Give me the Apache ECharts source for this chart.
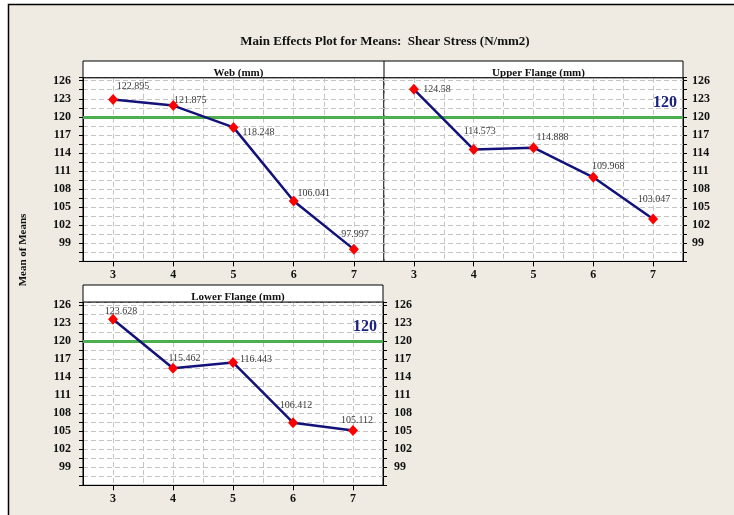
<!DOCTYPE html>
<html>
<head>
<meta charset="utf-8">
<script src="https://cdn.jsdelivr.net/npm/echarts@6/dist/echarts.min.js"></script>
<style>
html,body{margin:0;padding:0;background:#fff;}
#chart{width:734px;height:515px;}
</style>
</head>
<body>
<div id="chart"></div>
<script>
// ---- data ----
const levels = ['3', '4', '5', '6', '7'];
const xCats = ['2.5', '3', '3.5', '4', '4.5', '5', '5.5', '6', '6.5', '7', '7.5'];
const webMeans = [122.895, 121.875, 118.248, 106.041, 97.997];
const upperMeans = [124.58, 114.573, 114.888, 109.968, 103.047];
const lowerMeans = [123.628, 115.462, 116.443, 106.412, 105.112];
const yTickLabels = [99, 102, 105, 108, 111, 114, 117, 120, 123, 126];
const targetValue = 120;
const panelTitles = ['Web (mm)', 'Upper Flange (mm)', 'Lower Flange (mm)'];
const mainTitle = 'Main Effects Plot for Means:  Shear Stress (N/mm2)';
const yAxisName = 'Mean of Means';

// ---- label placement (style) ----
const labelOffsets = [
  [[20, -13], [17, -5.5], [25, 5], [20, -7.5], [1, -15]],
  [[23, 0], [6, -18.5], [19, -10], [15, -10.5], [1, -19.5]],
  [[8, -8], [11.5, -10], [23, -3.5], [3, -17.5], [4, -10.5]]
];

const SERIF = '"Liberation Serif", "DejaVu Serif", serif';
const grids = [
  {left: 83, top: 77.7, width: 301, height: 183.7},
  {left: 384, top: 77.7, width: 299, height: 183.7},
  {left: 83, top: 302, width: 300, height: 183.3}
];

function xAx(gi) {
  return {
    type: 'category', gridIndex: gi, data: xCats, boundaryGap: false,
    axisLine: {show: true, lineStyle: {color: '#000', width: 1}},
    axisTick: {show: true, length: 5, interval: (i) => i % 2 === 1, lineStyle: {color: '#000'}},
    axisLabel: {show: true, interval: (i) => i % 2 === 1, margin: 8,
      fontFamily: SERIF, fontWeight: 'bold', fontSize: 12, color: '#111'},
    splitLine: {show: true, interval: 0, lineStyle: {color: '#c4c4c4', type: [5, 3], width: 1}}
  };
}
function yAx(gi, pos, showLabels, showSplit, margin) {
  return {
    type: 'value', gridIndex: gi, position: pos, min: 96, max: 126.5, interval: 1.5,
    axisLine: {show: true, lineStyle: {color: '#000', width: 1}},
    axisTick: {show: true, length: 4, lineStyle: {color: '#000'}},
    axisLabel: {show: showLabels, margin: margin, fontFamily: SERIF, fontWeight: 'bold', fontSize: 12, color: '#111',
      formatter: (v) => yTickLabels.indexOf(v) >= 0 ? String(v) : ''},
    splitLine: {show: showSplit, lineStyle: {color: '#c4c4c4', type: [5, 3], width: 1}}
  };
}
function series(gi, yi, vals, offs, showTarget) {
  return {
    type: 'line', xAxisIndex: gi, yAxisIndex: yi,
    data: levels.map((l, i) => ({value: [l, vals[i]], label: {offset: offs[i]}})),
    symbol: 'diamond', symbolSize: [10, 11],
    itemStyle: {color: '#ff0000'},
    lineStyle: {color: '#12127a', width: 2.5},
    z: 5,
    label: {show: true, position: 'inside', formatter: (p) => String(p.value[1]),
      fontFamily: SERIF, fontSize: 10, color: '#3a3a3a'},
    markLine: {
      silent: true, symbol: 'none', z: 3,
      lineStyle: {color: '#4caf50', width: 3, type: 'solid'},
      label: {show: showTarget, position: 'insideEndTop', distance: 6, formatter: '{c}',
        fontFamily: SERIF, fontWeight: 'bold', fontSize: 16, color: '#1a237e', padding: 0},
      data: [{yAxis: targetValue}]
    }
  };
}

const option = {
  backgroundColor: '#ffffff',
  animation: false,
  title: [
    {text: mainTitle, left: 380, top: 30, textAlign: 'center',
      textStyle: {fontFamily: SERIF, fontWeight: 'bold', fontSize: 13, color: '#111'}},
    {text: panelTitles[0], left: 233.5, top: 63, textAlign: 'center', z: 12,
      textStyle: {fontFamily: SERIF, fontWeight: 'bold', fontSize: 11, color: '#111'}},
    {text: panelTitles[1], left: 533.5, top: 63, textAlign: 'center', z: 12,
      textStyle: {fontFamily: SERIF, fontWeight: 'bold', fontSize: 11, color: '#111'}},
    {text: panelTitles[2], left: 233, top: 287, textAlign: 'center', z: 12,
      textStyle: {fontFamily: SERIF, fontWeight: 'bold', fontSize: 11, color: '#111'}}
  ],
  graphic: [
    {type: 'rect', z: -1, shape: {x: 8.5, y: 4.5, width: 760, height: 540},
      style: {fill: '#efebe3', stroke: '#000', lineWidth: 1.5}},
    {type: 'rect', z: 10, shape: {x: 83, y: 61, width: 600, height: 16.7},
      style: {fill: '#ffffff', stroke: '#000', lineWidth: 1}},
    {type: 'line', z: 10, shape: {x1: 384, y1: 61, x2: 384, y2: 78},
      style: {stroke: '#000', lineWidth: 1}},
    {type: 'rect', z: 10, shape: {x: 83, y: 285, width: 300, height: 17},
      style: {fill: '#ffffff', stroke: '#000', lineWidth: 1}},
    {type: 'text', z: 10, x: 23, y: 250, rotation: Math.PI / 2,
      style: {text: yAxisName, font: 'bold 11px ' + SERIF, fill: '#111', textAlign: 'center', textVerticalAlign: 'middle'}}
  ],
  grid: grids.map((g) => Object.assign({show: true, backgroundColor: '#ffffff', borderColor: '#000', borderWidth: 1}, g)),
  xAxis: [xAx(0), xAx(1), xAx(2)],
  yAxis: [yAx(0, 'left', true, true, 12), yAx(1, 'right', true, true, 9), yAx(2, 'left', true, true, 12), yAx(2, 'right', true, false, 11)],
  series: [
    series(0, 0, webMeans, labelOffsets[0], false),
    series(1, 1, upperMeans, labelOffsets[1], true),
    series(2, 2, lowerMeans, labelOffsets[2], true)
  ]
};

const chart = echarts.init(document.getElementById('chart'), null, {renderer: 'canvas'});
chart.setOption(option);
</script>
</body>
</html>
